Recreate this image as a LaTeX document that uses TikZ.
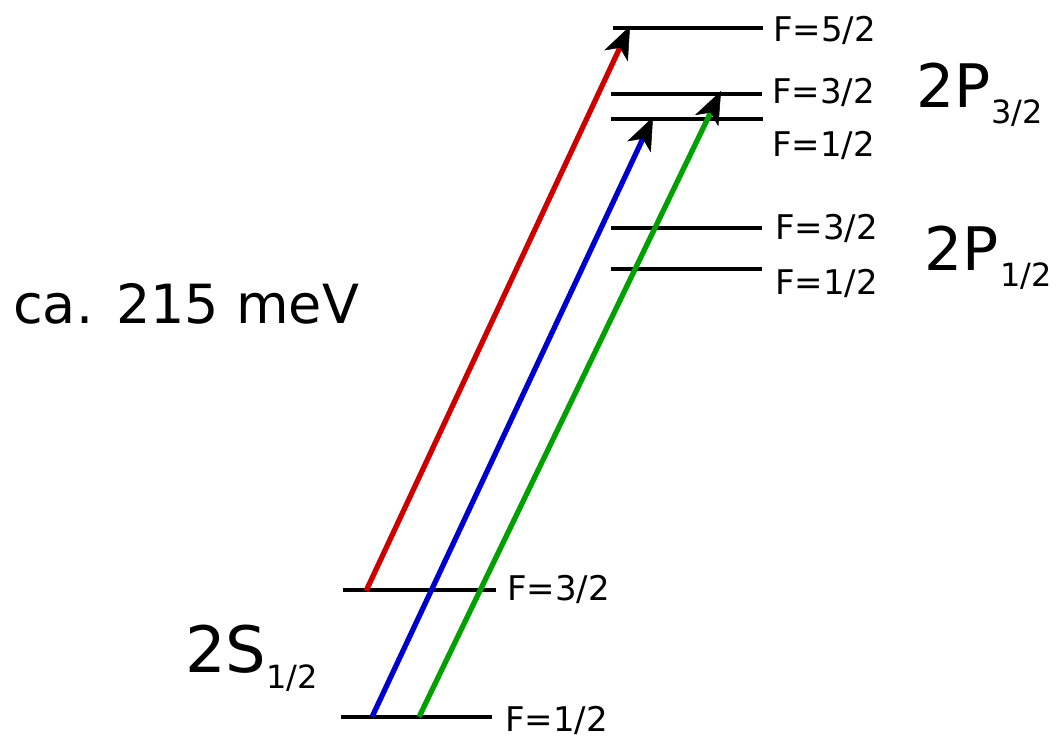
\documentclass[tikz,border=0pt]{standalone}
\usepackage{fontspec}
\setmainfont{DejaVu Sans}
\usetikzlibrary{arrows.meta}
\definecolor{tred}{HTML}{CC0000}
\definecolor{tblue}{HTML}{0000CC}
\definecolor{tgreen}{HTML}{00A000}
\tikzset{
  level/.style={line width=3.1pt},
  trans/.style={line width=5.3pt, -{Stealth[length=33pt,width=26pt,inset=9pt,color=black,line width=0.5pt]}},
  flabel/.style={anchor=base west, inner sep=0pt, font=\fontsize{34}{34}\selectfont},
  biglabel/.style={anchor=base west, inner sep=0pt},
}
\newcommand{\termsym}[4]{{\fontsize{#3}{#3}\selectfont #1}\kern#4\raisebox{-16pt}{\fontsize{32}{32}\selectfont #2}}
\begin{document}
\begin{tikzpicture}[x=1pt,y=-1pt]
\useasboundingbox (0,0) rectangle (1056,738);
% level end points
\coordinate (p52a) at (613,28);  \coordinate (p52b) at (763,28);
\coordinate (p32a) at (611,94);  \coordinate (p32b) at (762,94);
\coordinate (p12a) at (611,119); \coordinate (p12b) at (763,119);
\coordinate (q32a) at (611,228); \coordinate (q32b) at (762,228);
\coordinate (q12a) at (611,269); \coordinate (q12b) at (762,269);
\coordinate (s32a) at (343,590); \coordinate (s32b) at (496,590);
\coordinate (s12a) at (341,717); \coordinate (s12b) at (492,717);
% levels
\draw[level] (p52a) -- (p52b);
\draw[level] (p32a) -- (p32b);
\draw[level] (p12a) -- (p12b);
\draw[level] (q32a) -- (q32b);
\draw[level] (q12a) -- (q12b);
\draw[level] (s32a) -- (s32b);
\draw[level] (s12a) -- (s12b);
% F labels
\node[flabel] (lp52) at (773,42) {F=5/2};
\node[flabel] (lp32) at (772,104) {F=3/2};
\node[flabel] (lp12) at (772,157) {F=1/2};
\node[flabel] (lq32) at (775,239) {F=3/2};
\node[flabel] (lq12) at (775,294) {F=1/2};
\node[flabel] (ls32) at (507,600) {F=3/2};
\node[flabel] (ls12) at (505,731) {F=1/2};
% term labels
\node[biglabel] (t2p32) at (916,108) {\termsym{2P}{3/2}{60}{1pt}};
\node[biglabel] (t2p12) at (924,270) {\termsym{2P}{1/2}{60}{2pt}};
\node[biglabel] (t2s12) at (185,672) {\termsym{2S}{1/2}{64}{0pt}};
\node[biglabel] (energy) at (13,323) {\fontsize{54}{54}\selectfont ca. 215 meV};
% transitions
\coordinate (rs) at (366,591); \coordinate (re) at (630,26);
\coordinate (bs) at (372,717); \coordinate (be) at (653,117);
\coordinate (gs) at (419,717); \coordinate (ge) at (721,91);
\draw[trans, tred] (rs) -- (re);
\draw[trans, tblue] (bs) -- (be);
\draw[trans, tgreen] (gs) -- (ge);
\end{tikzpicture}
\end{document}
